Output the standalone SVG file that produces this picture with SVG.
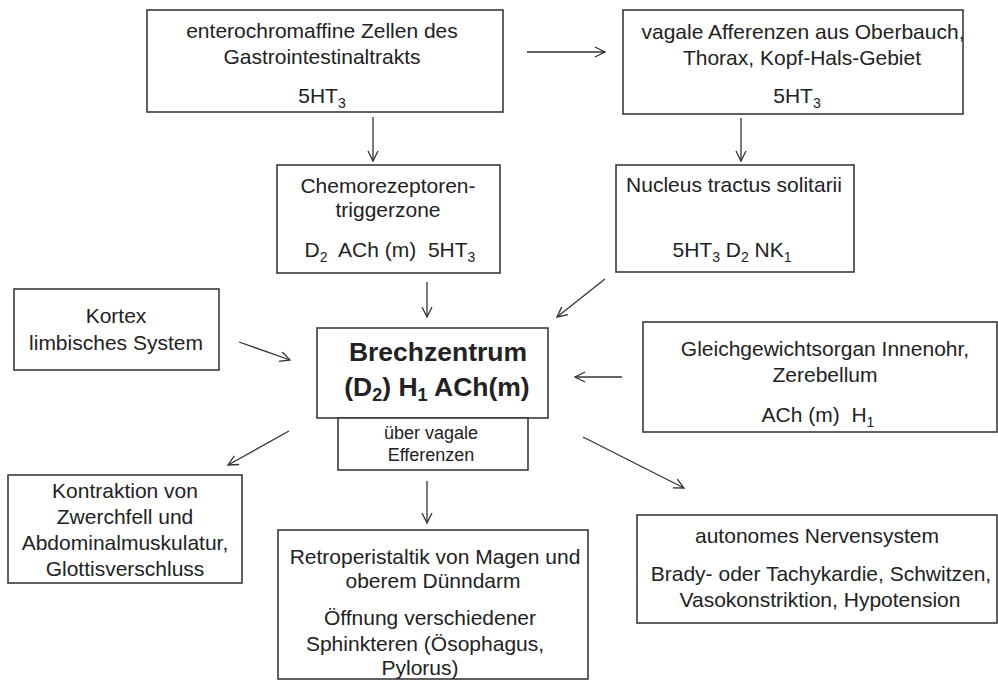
<svg xmlns="http://www.w3.org/2000/svg" width="998" height="680" viewBox="0 0 998 680">
<style>
.box{fill:#fff;stroke:#3a3a3a;stroke-width:1.6}
.t{font-family:"Liberation Sans",Arial,sans-serif;font-size:21px;fill:#222;text-anchor:middle}
.b{font-family:"Liberation Sans",Arial,sans-serif;font-size:26.5px;font-weight:bold;fill:#222;text-anchor:middle}
.s{font-family:"Liberation Sans",Arial,sans-serif;font-size:18px;fill:#222;text-anchor:middle}
.sub{font-size:14px}
.bsub{font-size:18px}
.c{stroke:#333;stroke-width:1.3;fill:none;marker-end:url(#ah)}
</style>
<defs>
<marker id="ah" markerUnits="userSpaceOnUse" markerWidth="14" markerHeight="14" refX="11" refY="6" orient="auto" viewBox="0 0 14 12">
<path d="M1,1 L11,6 L1,11" fill="none" stroke="#333" stroke-width="1.3"/>
</marker>
</defs>
<rect width="998" height="680" fill="#fff"/>
<g id="connectors">
<line class="c" x1="527" y1="52" x2="605" y2="52"/>
<line class="c" x1="373" y1="117" x2="373" y2="161"/>
<line class="c" x1="741" y1="118" x2="741" y2="161"/>
<line class="c" x1="427" y1="282" x2="427" y2="317"/>
<line class="c" x1="605" y1="279" x2="557" y2="317"/>
<line class="c" x1="622" y1="377" x2="575" y2="377"/>
<line class="c" x1="239" y1="342" x2="290" y2="360"/>
<line class="c" x1="289" y1="431" x2="228" y2="465"/>
<line class="c" x1="427" y1="481" x2="427" y2="523"/>
<line class="c" x1="583" y1="437" x2="684" y2="488"/>
</g>
<g id="n-entero">
<rect class="box" x="147" y="10" width="356" height="102"/>
<text class="t" x="322" y="38">enterochromaffine Zellen des</text>
<text class="t" x="322" y="64">Gastrointestinaltrakts</text>
<text class="t" x="322" y="103">5HT<tspan class="sub" dy="5">3</tspan></text>
</g>
<g id="n-vagal">
<rect class="box" x="623" y="10" width="340" height="104"/>
<text class="t" x="803" y="39">vagale Afferenzen aus Oberbauch,</text>
<text class="t" x="802" y="65">Thorax, Kopf-Hals-Gebiet</text>
<text class="t" x="797" y="103">5HT<tspan class="sub" dy="5">3</tspan></text>
</g>
<g id="n-ctz">
<rect class="box" x="277" y="165" width="223" height="108"/>
<text class="t" x="388" y="193">Chemorezeptoren-</text>
<text class="t" x="388" y="217">triggerzone</text>
<text class="t" x="390" y="257" xml:space="preserve">D<tspan class="sub" dy="5">2</tspan><tspan dy="-5">  ACh (m)  5HT</tspan><tspan class="sub" dy="5">3</tspan></text>
</g>
<g id="n-nts">
<rect class="box" x="616" y="165" width="238" height="107"/>
<text class="t" x="734" y="192">Nucleus tractus solitarii</text>
<text class="t" x="732" y="257">5HT<tspan class="sub" dy="5">3</tspan><tspan dy="-5"> D</tspan><tspan class="sub" dy="5">2</tspan><tspan dy="-5"> NK</tspan><tspan class="sub" dy="5">1</tspan></text>
</g>
<g id="n-kortex">
<rect class="box" x="14" y="289" width="205" height="81"/>
<text class="t" x="116" y="323">Kortex</text>
<text class="t" x="116" y="350">limbisches System</text>
</g>
<g id="n-brech">
<rect class="box" x="317" y="328" width="231" height="90"/>
<text class="b" x="438" y="361">Brechzentrum</text>
<text class="b" x="437" y="396">(D<tspan class="bsub" dy="5">2</tspan><tspan dy="-5">) H</tspan><tspan class="bsub" dy="5">1</tspan><tspan dy="-5"> ACh(m)</tspan></text>
</g>
<g id="n-efferenzen">
<rect class="box" x="338" y="418" width="190" height="52"/>
<text class="s" x="431" y="439">über vagale</text>
<text class="s" x="431" y="461">Efferenzen</text>
</g>
<g id="n-gleich">
<rect class="box" x="643" y="322" width="354" height="110"/>
<text class="t" x="825" y="356">Gleichgewichtsorgan Innenohr,</text>
<text class="t" x="825" y="382">Zerebellum</text>
<text class="t" x="818" y="422" xml:space="preserve">ACh (m)  H<tspan class="sub" dy="5">1</tspan></text>
</g>
<g id="n-kontraktion">
<rect class="box" x="8" y="475" width="234" height="108"/>
<text class="t" x="125" y="498">Kontraktion von</text>
<text class="t" x="125" y="524">Zwerchfell und</text>
<text class="t" x="125" y="550">Abdominalmuskulatur,</text>
<text class="t" x="125" y="576">Glottisverschluss</text>
</g>
<g id="n-retro">
<rect class="box" x="278" y="530" width="310" height="149"/>
<text class="t" x="435" y="564">Retroperistaltik von Magen und</text>
<text class="t" x="433" y="588">oberem Dünndarm</text>
<text class="t" x="430" y="625">Öffnung verschiedener</text>
<text class="t" x="425" y="651">Sphinkteren (Ösophagus,</text>
<text class="t" x="420" y="675">Pylorus)</text>
</g>
<g id="n-ans">
<rect class="box" x="637" y="515" width="360" height="108"/>
<text class="t" x="817" y="543">autonomes Nervensystem</text>
<text class="t" x="821" y="581">Brady- oder Tachykardie, Schwitzen,</text>
<text class="t" x="820" y="607">Vasokonstriktion, Hypotension</text>
</g>
</svg>
